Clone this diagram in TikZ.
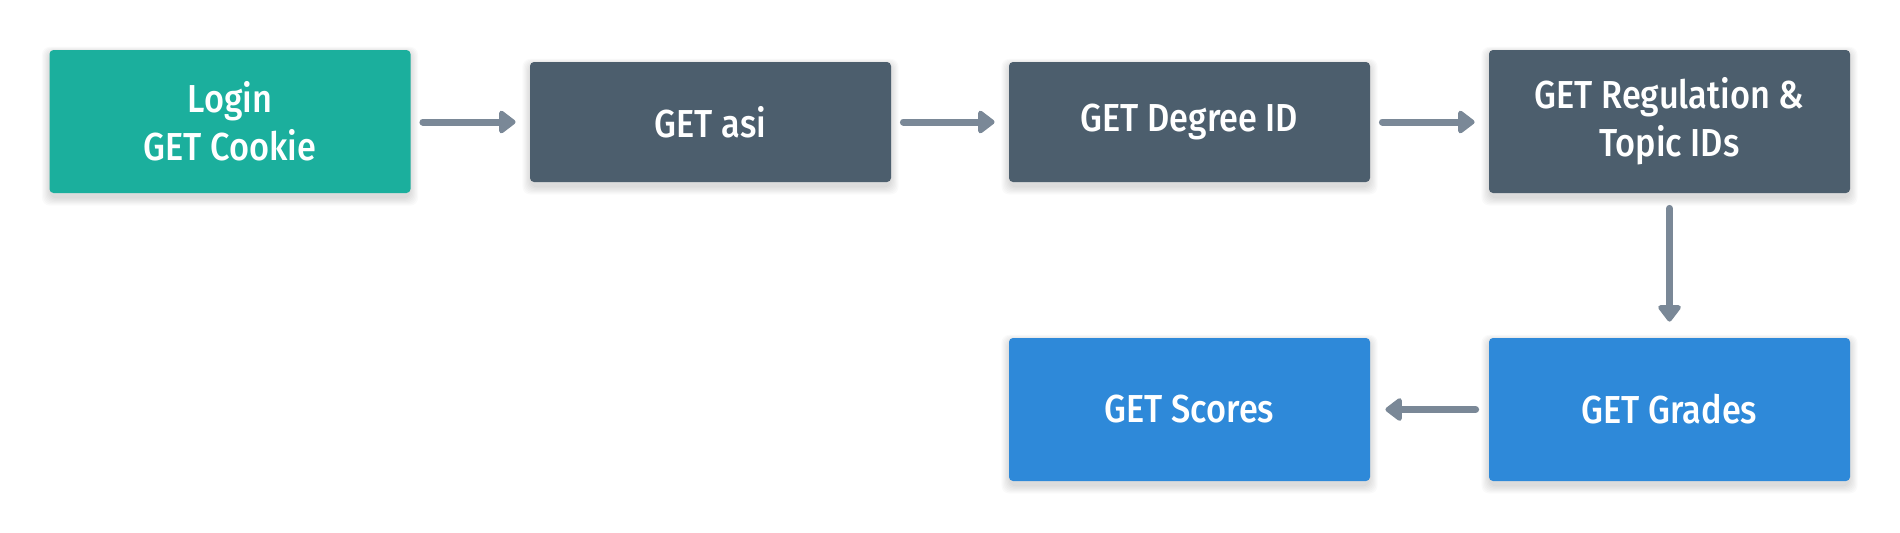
\documentclass[tikz,border=0pt]{standalone}
\usepackage{fontspec}
\newfontfamily\lab{Fira Sans Medium}[FakeStretch=0.88]
\usetikzlibrary{arrows.meta,backgrounds}
\definecolor{teal}{HTML}{1BAF9D}
\definecolor{slate}{HTML}{4C5E6D}
\definecolor{bluebox}{HTML}{2E89D9}
\definecolor{arrowgray}{HTML}{7A8897}
\tikzset{
  box/.style={rounded corners=2pt, minimum width=180.5pt, text=white, align=center,
    font=\lab\fontsize{19.5}{24}\selectfont, inner sep=0pt},
  tall/.style={box, minimum height=71.5pt},
  short/.style={box, minimum height=60pt},
  flow/.style={draw=arrowgray, line width=3.5pt, line cap=round,
    -{Triangle[length=9pt,width=13pt,round]}},
  shadowlayer/.style={fill=black, opacity=0.018, rounded corners=4pt}
}
\begin{document}
\begin{tikzpicture}[x=0.5pt,y=-0.5pt]
\useasboundingbox (0,0) rectangle (1900,532);
\node[tall, fill=teal] (login) at (230,121.5) {Login\\GET Cookie};
\node[short, fill=slate] (asi) at (710.5,122) {GET asi};
\node[short, fill=slate] (deg) at (1189.5,122) {GET Degree ID};
\node[tall, fill=slate] (reg) at (1669.5,121.5) {GET Regulation \&\\Topic IDs};
\node[tall, fill=bluebox] (grades) at (1669.5,409.5) {GET Grades};
\node[tall, fill=bluebox] (scores) at (1189.5,409.5) {GET Scores};
\begin{scope}[on background layer]
\fill[white] (0,0) rectangle (1900,532);
\foreach \n in {login,asi,deg,reg,grades,scores}{
  \foreach \k in {0,...,6}{
    \fill[shadowlayer] ([xshift=-\k*0.6pt, yshift=-1pt+\k*0.4pt]\n.north west)
      rectangle ([xshift=\k*0.6pt, yshift=-2.5pt-\k*0.6pt]\n.south east);
  }
}
\end{scope}
\draw[flow, shorten <=6pt, shorten >=7pt] (login.east |- asi.east) -- (asi.east -| asi.west);
\draw[flow, shorten <=6pt, shorten >=7pt] (asi.east) -- (deg.west);
\draw[flow, shorten <=6pt, shorten >=7pt] (deg.east) -- (deg.east -| reg.west);
\draw[flow, shorten <=7.5pt, shorten >=8pt] (reg.south) -- (grades.north);
\draw[flow, shorten <=6.5pt, shorten >=7.5pt] (grades.west) -- (scores.east);
\end{tikzpicture}
\end{document}
